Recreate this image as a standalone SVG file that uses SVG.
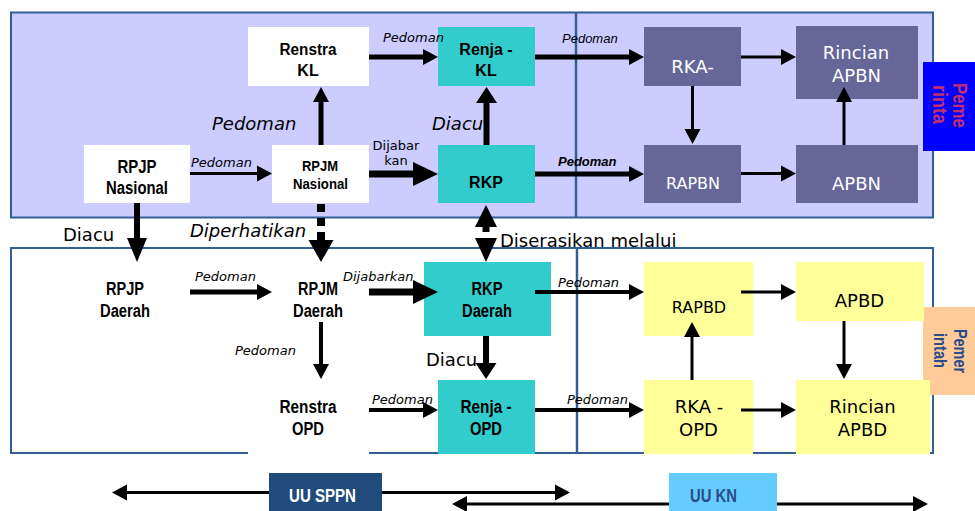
<svg xmlns="http://www.w3.org/2000/svg" width="975" height="511" viewBox="0 0 975 511">
<style>
.panel{stroke:#335e96;stroke-width:2}
.div{stroke:#335e96;stroke-width:2.5}
.white{fill:#ffffff}
.teal{fill:#33cccc}
.slate{fill:#666699}
.yel{fill:#ffff99}
.b{font-family:"Liberation Sans",Arial,sans-serif;font-weight:bold;fill:#000;text-anchor:middle}
.d{font-family:"DejaVu Sans",Verdana,sans-serif;fill:#000}
.dw{font-family:"DejaVu Sans",Verdana,sans-serif;fill:#fff;text-anchor:middle}
.dk{font-family:"DejaVu Sans",Verdana,sans-serif;fill:#000;text-anchor:middle}
.it{font-style:italic}
.s13{font-size:13px}
.s18{font-size:18px}
.la{font-family:"Liberation Sans",Arial,sans-serif;font-style:italic;font-size:13px;fill:#000}
.ln{stroke:#000;fill:none}
.w3{stroke-width:3}
.w4{stroke-width:4}
.w5{stroke-width:5}
.w6{stroke-width:6}
.w7{stroke-width:7}
.w8{stroke-width:8}
.head{fill:#000}
</style>
<defs>
<marker id="a1" markerUnits="userSpaceOnUse" viewBox="0 0 15 16" markerWidth="15" markerHeight="16" refX="0" refY="8" orient="auto-start-reverse" overflow="visible"><path d="M0,0 L15,8 L0,16 Z" fill="#000"/></marker>
<marker id="a2" markerUnits="userSpaceOnUse" viewBox="0 0 16 21" markerWidth="16" markerHeight="21" refX="0" refY="10.5" orient="auto" overflow="visible"><path d="M0,0 L16,10.5 L0,21 Z" fill="#000"/></marker>
<marker id="a3" markerUnits="userSpaceOnUse" viewBox="0 0 25 24" markerWidth="25" markerHeight="24" refX="0" refY="12" orient="auto" overflow="visible"><path d="M0,0 L25,12 L0,24 Z" fill="#000"/></marker>
<marker id="a4" markerUnits="userSpaceOnUse" viewBox="0 0 22 25" markerWidth="22" markerHeight="25" refX="0" refY="12.5" orient="auto" overflow="visible"><path d="M0,0 L22,12.5 L0,25 Z" fill="#000"/></marker>
<marker id="a5" markerUnits="userSpaceOnUse" viewBox="0 0 24 20" markerWidth="24" markerHeight="20" refX="0" refY="10" orient="auto" overflow="visible"><path d="M0,0 L24,10 L0,20 Z" fill="#000"/></marker>
</defs>
<rect width="975" height="511" fill="#ffffff"/>
<g id="panels">
<rect class="panel" x="11" y="12.5" width="922" height="205" fill="#ccccff"/>
<line class="div" x1="576" y1="12.5" x2="576" y2="217.5"/>
<rect class="panel" x="11" y="248" width="922" height="205" fill="#ffffff"/>
<line class="div" x1="577" y1="248" x2="577" y2="453"/>
</g>
<g id="laws">
<line class="ln w3" x1="127" y1="492.5" x2="555" y2="492.5" marker-start="url(#a1)" marker-end="url(#a1)"/>
<line class="ln w3" x1="467" y1="504" x2="913" y2="504" marker-start="url(#a1)" marker-end="url(#a1)"/>
<g id="uu-sppn"><rect x="269" y="473" width="113" height="38" fill="#214a7d"/><text x="322.5" y="502" font-size="18" textLength="67" lengthAdjust="spacingAndGlyphs" style="font-family:'Liberation Sans',Arial,sans-serif;font-weight:bold;fill:#fff;text-anchor:middle">UU SPPN</text></g>
<g id="uu-kn"><rect x="669" y="473" width="108" height="38" fill="#66ccff"/><text x="713.5" y="502" font-size="18" textLength="47" lengthAdjust="spacingAndGlyphs" style="font-family:'Liberation Sans',Arial,sans-serif;font-weight:bold;fill:#2b4c8c;text-anchor:middle">UU KN</text></g>
</g>
<g id="side-labels">
<g id="pemerintah-pusat"><rect x="923" y="62" width="52" height="89" fill="#0000ff"/>
<text transform="translate(953,105.5) rotate(90)" font-size="20" textLength="45" lengthAdjust="spacingAndGlyphs" style="font-family:'Liberation Sans',Arial,sans-serif;font-weight:bold;fill:#c2306e;text-anchor:middle">Peme</text>
<text transform="translate(933,104.5) rotate(90)" font-size="20" textLength="39" lengthAdjust="spacingAndGlyphs" style="font-family:'Liberation Sans',Arial,sans-serif;font-weight:bold;fill:#c2306e;text-anchor:middle">rinta</text></g>
<g id="pemerintah-daerah"><rect x="923" y="307" width="52" height="88" fill="#ffcc99"/>
<text transform="translate(954,351) rotate(90)" font-size="19" textLength="44" lengthAdjust="spacingAndGlyphs" style="font-family:'Liberation Sans',Arial,sans-serif;font-weight:bold;fill:#2b4c8c;text-anchor:middle">Pemer</text>
<text transform="translate(934,350.5) rotate(90)" font-size="19" textLength="35" lengthAdjust="spacingAndGlyphs" style="font-family:'Liberation Sans',Arial,sans-serif;font-weight:bold;fill:#2b4c8c;text-anchor:middle">intah</text></g>
</g>
<g id="nodes">
<g id="renstra-kl"><rect class="white" x="248" y="27" width="121" height="59"/><text class="b" x="308" y="55" font-size="16" textLength="57" lengthAdjust="spacingAndGlyphs">Renstra</text><text class="b" x="308" y="76" font-size="16">KL</text></g>
<g id="renja-kl"><rect class="teal" x="438" y="27" width="97" height="59"/><text class="b" x="486" y="55" font-size="16">Renja -</text><text class="b" x="486" y="76" font-size="16">KL</text></g>
<g id="rpjp-nasional"><rect class="white" x="84" y="145" width="106" height="58"/><text class="b" x="137" y="173" font-size="18" textLength="39" lengthAdjust="spacingAndGlyphs">RPJP</text><text class="b" x="137" y="194" font-size="18" textLength="62" lengthAdjust="spacingAndGlyphs">Nasional</text></g>
<g id="rpjm-nasional"><rect class="white" x="272" y="145" width="97" height="58"/><text class="b" x="320" y="171" font-size="15" textLength="36" lengthAdjust="spacingAndGlyphs">RPJM</text><text class="b" x="320.5" y="189" font-size="15" textLength="55" lengthAdjust="spacingAndGlyphs">Nasional</text></g>
<g id="rkp"><rect class="teal" x="438" y="145" width="97" height="58"/><text class="b" x="486" y="188" font-size="16">RKP</text></g>
<g id="rka-kl"><rect class="slate" x="644" y="27" width="97" height="59"/><text class="dw s18" x="692.5" y="73">RKA-</text></g>
<g id="rincian-apbn"><rect class="slate" x="796" y="26" width="122" height="73"/><text class="dw s18" x="856" y="59">Rincian</text><text class="dw s18" x="856.5" y="82">APBN</text></g>
<g id="rapbn"><rect class="slate" x="644" y="145" width="97" height="58"/><text class="dw" x="693" y="189" font-size="16">RAPBN</text></g>
<g id="apbn"><rect class="slate" x="796" y="145" width="122" height="58"/><text class="dw s18" x="856.5" y="190">APBN</text></g>
<g id="rpjp-daerah"><rect class="white" x="84" y="262" width="106" height="60"/><text class="b" x="125" y="295" font-size="18" textLength="38" lengthAdjust="spacingAndGlyphs">RPJP</text><text class="b" x="125" y="317" font-size="18" textLength="50" lengthAdjust="spacingAndGlyphs">Daerah</text></g>
<g id="rpjm-daerah"><rect class="white" x="272" y="262" width="97" height="60"/><text class="b" x="318" y="295" font-size="18" textLength="40" lengthAdjust="spacingAndGlyphs">RPJM</text><text class="b" x="318" y="317" font-size="18" textLength="50" lengthAdjust="spacingAndGlyphs">Daerah</text></g>
<g id="rkp-daerah"><rect class="teal" x="424" y="262" width="127" height="74"/><text class="b" x="487" y="295" font-size="18" textLength="31" lengthAdjust="spacingAndGlyphs">RKP</text><text class="b" x="487" y="317" font-size="18" textLength="50" lengthAdjust="spacingAndGlyphs">Daerah</text></g>
<g id="renstra-opd"><rect class="white" x="248" y="380" width="121" height="75"/><text class="b" x="308" y="413" font-size="18" textLength="57" lengthAdjust="spacingAndGlyphs">Renstra</text><text class="b" x="308" y="435" font-size="18" textLength="32" lengthAdjust="spacingAndGlyphs">OPD</text></g>
<g id="renja-opd"><rect class="teal" x="438" y="380" width="97" height="74"/><text class="b" x="486" y="413" font-size="18" textLength="51" lengthAdjust="spacingAndGlyphs">Renja -</text><text class="b" x="486" y="435" font-size="18" textLength="32" lengthAdjust="spacingAndGlyphs">OPD</text></g>
<g id="rapbd"><rect class="yel" x="644" y="262" width="109" height="74"/><text class="dk" x="699" y="313" font-size="16">RAPBD</text></g>
<g id="apbd"><rect class="yel" x="796" y="262" width="128" height="59"/><text class="dk s18" x="859.5" y="307">APBD</text></g>
<g id="rka-opd"><rect class="yel" x="644" y="380" width="109" height="74"/><text class="dk s18" x="699" y="413">RKA -</text><text class="dk s18" x="698.5" y="436">OPD</text></g>
<g id="rincian-apbd"><rect class="yel" x="796" y="380" width="134" height="74"/><text class="dk s18" x="862.5" y="413">Rincian</text><text class="dk s18" x="862.5" y="436">APBD</text></g>
</g>
<g id="connectors">
<line class="ln w5" x1="369" y1="57" x2="423" y2="57" marker-end="url(#a1)"/>
<line class="ln w3" x1="190" y1="173.5" x2="257" y2="173.5" marker-end="url(#a1)"/>
<line class="ln w5" x1="321" y1="145" x2="321" y2="102" marker-end="url(#a1)"/>
<line class="ln w7" x1="369" y1="174" x2="413" y2="174" marker-end="url(#a3)"/>
<line class="ln w6" x1="486.5" y1="145" x2="486.5" y2="103" marker-end="url(#a2)"/>
<line class="ln w6" x1="137" y1="203" x2="137" y2="238" marker-end="url(#a5)"/>
<line class="ln w8" x1="321" y1="204" x2="321" y2="240" stroke-dasharray="8 6" marker-end="url(#a4)"/>
<path class="head" d="M486,205 L497,227 L489.5,227 L489.5,232 L482.5,232 L482.5,227 L475,227 Z M475,238 L497,238 L486,262 Z"/>
<line class="ln w3" x1="692.5" y1="86" x2="692.5" y2="129" marker-end="url(#a1)"/>
<line class="ln w3" x1="844" y1="145" x2="844" y2="102" marker-end="url(#a1)"/>
<line class="ln w3" x1="741" y1="57" x2="781" y2="57" marker-end="url(#a1)"/>
<line class="ln w3" x1="741" y1="173.5" x2="781" y2="173.5" marker-end="url(#a1)"/>
<line class="ln w5" x1="535" y1="57" x2="629" y2="57" marker-end="url(#a1)"/>
<line class="ln w5" x1="535" y1="174" x2="629" y2="174" marker-end="url(#a1)"/>
<line class="ln w5" x1="190" y1="292" x2="257" y2="292" marker-end="url(#a1)"/>
<line class="ln w7" x1="369" y1="292" x2="413" y2="292" marker-end="url(#a3)"/>
<line class="ln w4" x1="321" y1="322" x2="321" y2="364" marker-end="url(#a1)"/>
<line class="ln w6" x1="486" y1="336" x2="486" y2="363" marker-end="url(#a2)"/>
<line class="ln w4" x1="369" y1="410" x2="423" y2="410" marker-end="url(#a1)"/>
<line class="ln w4" x1="535" y1="292" x2="629" y2="292" marker-end="url(#a1)"/>
<line class="ln w4" x1="535" y1="410" x2="629" y2="410" marker-end="url(#a1)"/>
<line class="ln w3" x1="692" y1="380" x2="692" y2="337" marker-end="url(#a1)"/>
<line class="ln w3" x1="741" y1="292" x2="781" y2="292" marker-end="url(#a1)"/>
<line class="ln w3" x1="844" y1="321" x2="844" y2="364" marker-end="url(#a1)"/>
<line class="ln w3" x1="741" y1="410" x2="781" y2="410" marker-end="url(#a1)"/>
</g>
<g id="labels">
<text class="d it s13" x="383" y="42">Pedoman</text>
<text class="d it s13" x="191" y="167">Pedoman</text>
<text class="d it s18" x="212" y="130">Pedoman</text>
<text class="dk s13" x="396" y="150">Dijabar</text>
<text class="dk s13" x="396" y="165">kan</text>
<text class="d it s18" x="432" y="130">Diacu</text>
<text class="d s18" x="63" y="241">Diacu</text>
<text class="d it s18" x="190" y="237">Diperhatikan</text>
<text class="d s18" x="500" y="247">Diserasikan melalui</text>
<text class="la" x="562" y="43">Pedoman</text>
<text class="la" x="558" y="166" font-weight="bold">Pedoman</text>
<text class="d it s13" x="195" y="281">Pedoman</text>
<text class="d it s13" x="343" y="281">Dijabarkan</text>
<text class="d it s13" x="235" y="355">Pedoman</text>
<text class="d s18" x="426" y="366">Diacu</text>
<text class="d it s13" x="372" y="404">Pedoman</text>
<text class="d it s13" x="558" y="287">Pedoman</text>
<text class="d it s13" x="567" y="404">Pedoman</text>
</g>
</svg>
